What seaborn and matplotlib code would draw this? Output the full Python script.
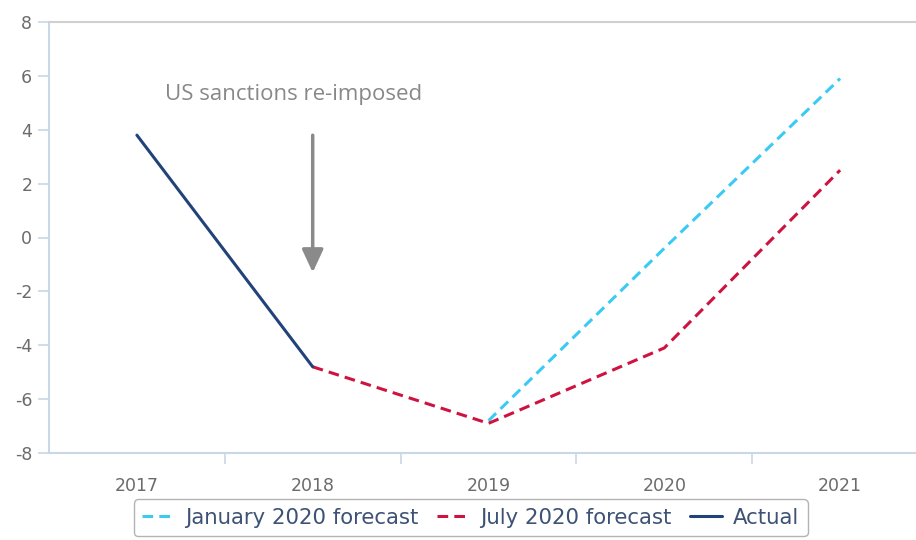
import pandas as pd
import matplotlib.pyplot as plt
import seaborn as sns

jan_years = [2019, 2020, 2021]
jan_values = [-6.8, -0.4, 5.9]
jul_years = [2018, 2019, 2020, 2021]
jul_values = [-4.8, -6.9, -4.1, 2.5]
act_years = [2017, 2018]
act_values = [3.8, -4.8]
year_labels = [2017, 2018, 2019, 2020, 2021]

series = ["January 2020 forecast", "July 2020 forecast", "Actual"]
df = pd.concat([
    pd.DataFrame({"year": jan_years, "value": jan_values, "series": series[0]}),
    pd.DataFrame({"year": jul_years, "value": jul_values, "series": series[1]}),
    pd.DataFrame({"year": act_years, "value": act_values, "series": series[2]}),
])

sns.set_style("white")
plt.rcParams['font.family'] = ['DejaVu Sans']
plt.rcParams['axes.unicode_minus'] = False

fig = plt.figure(figsize=(9.16, 5.4), dpi=100)
ax = fig.add_axes([49 / 916, 1 - 453 / 540, 879 / 916, 431 / 540])

palette = {series[0]: "#3ACBF5", series[1]: "#CF1340", series[2]: "#22427A"}
dashes = {series[0]: (3.5, 2), series[1]: (3.5, 2), series[2]: ""}
sns.lineplot(data=df, x="year", y="value", hue="series", style="series",
             palette=palette, dashes=dashes, hue_order=series, style_order=series,
             linewidth=2.2, ax=ax, legend=True)

ax.set_xlim(2016.5, 2021.5)
ax.set_ylim(-8, 8)
ax.set_yticks(range(-8, 9, 2))
ax.set_xticks(year_labels)
ax.set_xticks([y + 0.5 for y in year_labels[:-1]], minor=True)
ax.set_xlabel("")
ax.set_ylabel("")

axis_col = "#C9D7E6"
for s in ["left", "bottom"]:
    ax.spines[s].set_color(axis_col)
    ax.spines[s].set_linewidth(1.5)
ax.spines["right"].set_visible(False)
ax.spines["top"].set_color("#D0D0D0")
ax.spines["top"].set_linewidth(1.5)

ax.tick_params(axis="y", which="major", left=True, length=8, width=1.2, color=axis_col,
               labelsize=12.5, labelcolor="#6B6B6B", pad=4)
ax.tick_params(axis="x", which="major", bottom=False, labelsize=12.5, labelcolor="#6B6B6B", pad=14)
ax.tick_params(axis="x", which="minor", bottom=True, length=8, width=1.2, color=axis_col)

ax.annotate("", xy=(2018, -1.4), xytext=(2018, 3.9),
            arrowprops=dict(arrowstyle="-|>,head_width=0.65,head_length=1.4",
                            color="#8A8A8A", lw=2.5))
ax.text(2017.89, 5.3, "US sanctions re-imposed", ha="center", va="center",
        fontsize=16, color="#888888", family=["Open Sans", "DejaVu Sans"])

handles, labels = ax.get_legend_handles_labels()
ax.get_legend().remove()
leg = fig.legend(handles, labels, loc="upper center", bbox_to_anchor=(0.514, 0.095),
                 ncol=3, frameon=True, fancybox=True, handlelength=1.5,
                 columnspacing=0.9, handletextpad=0.5, borderpad=0.4,
                 prop={"family": ["DejaVu Sans"], "size": 15.3})
leg.get_frame().set_edgecolor("#A0A0A0")
for t in leg.get_texts():
    t.set_color("#3D5275")

fig.savefig("out.png", dpi=100)
